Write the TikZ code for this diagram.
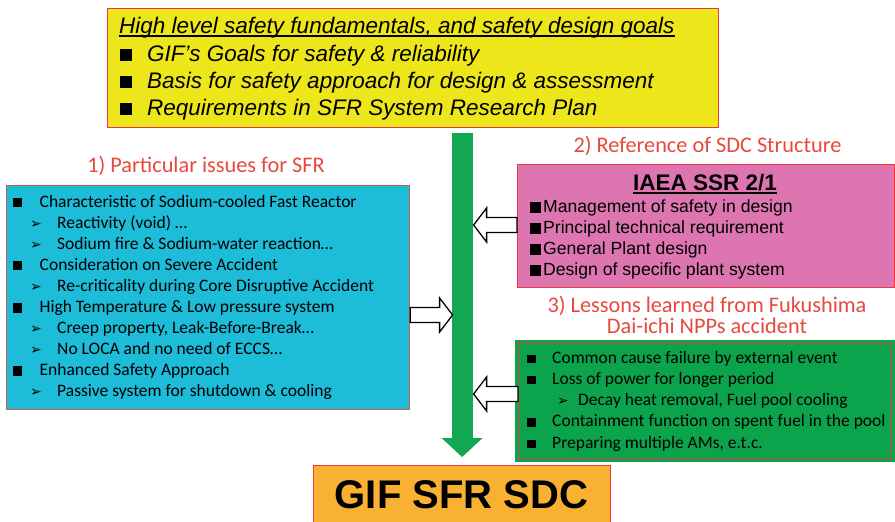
\documentclass[tikz,border=0pt]{standalone}
\usepackage{fontspec}
\setmainfont{Carlito}
\newfontfamily\arialfont{Liberation Sans}
\newfontfamily\symfont{DejaVu Sans}
\usepackage{tikz}
\usetikzlibrary{arrows.meta,positioning,calc}

\definecolor{goalyellow}{HTML}{EDE61A}
\definecolor{issueblue}{HTML}{1DBCD9}
\definecolor{ssrpink}{HTML}{DD76B0}
\definecolor{lessongreen}{HTML}{0BA34B}
\definecolor{flowgreen}{HTML}{12A753}
\definecolor{sdcorange}{HTML}{F9B132}
\definecolor{edgered}{HTML}{EA3A3F}
\definecolor{headred}{HTML}{E6493E}

% square bullet: box width, square size
\newcommand{\sqb}[2]{\makebox[#1][l]{\rule{#2}{#2}}}
% arrowhead bullet: indent, box width
\newcommand{\arb}[2]{\hspace*{#1}\makebox[#2][l]{{\symfont\fontsize{14}{14}\selectfont\char"27A2}}}
% underline close to the baseline
\newlength{\ullen}
\newcommand{\undl}[1]{\settowidth{\ullen}{#1}\rlap{#1}\rule[-3.6pt]{\ullen}{1.2pt}}

\begin{document}
\begin{tikzpicture}[x=1pt, y=-1pt,
box/.style={draw=edgered, line width=1.2pt, inner sep=0pt, anchor=north west},
head/.style={anchor=base, inner sep=0pt, text=headred, font=\fontsize{22.3}{26}\selectfont},
goaltext/.style={anchor=base west, inner sep=0pt, font=\arialfont\itshape\fontsize{22.5}{27}\selectfont},
issuetext/.style={anchor=base west, inner sep=0pt, font=\fontsize{17.5}{21}\selectfont},
ssrtext/.style={anchor=base west, inner sep=0pt, font=\arialfont\fontsize{17.6}{21}\selectfont},
flow/.style={draw=flowgreen, line width=21pt, -{Triangle[length=19pt, width=41pt, line width=0pt]}},
hollow/.style={draw, fill=white, line width=1.3pt, to path={
  let \p1=(\tikztostart), \p2=(\tikztotarget), \n1={13*sign(\x2-\x1)} in
  (\x1,\y1+7.5pt) -- (\x2-\n1,\y1+7.5pt) -- (\x2-\n1,\y1+17pt) -- (\x2,\y1)
  -- (\x2-\n1,\y1-17pt) -- (\x2-\n1,\y1-7.5pt) -- (\x1,\y1-7.5pt) -- cycle}}
]
\useasboundingbox (0,0) rectangle (895,522);
\clip (0,0) rectangle (895,522);

% boxes
\node[box, fill=goalyellow, minimum width=611pt, minimum height=119pt] (goals) at (107,8) {};
\node[box, fill=issueblue, draw={rgb,255:red,200;green,90;blue,72}, minimum width=403pt, minimum height=224pt] (issues) at (6,185) {};
\node[box, fill=ssrpink, minimum width=377pt, minimum height=123pt] (ssr) at (517,164) {};
\node[box, fill=lessongreen, preaction={draw=lessongreen, line width=7pt}, minimum width=373pt, minimum height=115pt] (lessons) at (518,343) {};
\node[box, fill=sdcorange, minimum width=297pt, minimum height=80pt] (sdc) at (313,465) {};

% goals
\node[goaltext] (goaltitle) at (119,33) {\undl{High level safety fundamentals, and safety design goals}};
\foreach \y/\t [count=\i] in {61/{GIF’s Goals for safety \& reliability},
  88/{Basis for safety approach for design \& assessment},
  115/{Requirements in SFR System Research Plan}}
  \node[goaltext] (goal\i) at (120,\y) {\sqb{27pt}{12pt}\t};

% headings
\node[head] (issuehead) at (206,172) {1) Particular issues for SFR};
\node[head] (ssrhead) at (707.5,152) {2) Reference of SDC Structure};
\node[head] (lessonhead) at (707,312) {3) Lessons learned from Fukushima};
\node[head] (lessonhead2) at (707,333) {Dai-ichi NPPs accident};

% particular issues
\foreach \t [count=\i] in {{\sqb{27pt}{9.5pt}Characteristic of Sodium-cooled Fast Reactor},
  {\arb{17.5pt}{27pt}Reactivity (void) …},
  {\arb{17.5pt}{27pt}Sodium fire \& Sodium-water reaction…},
  {\sqb{27pt}{9.5pt}Consideration on Severe Accident},
  {\arb{17.5pt}{27pt}Re-criticality during Core Disruptive Accident},
  {\sqb{27pt}{9.5pt}High Temperature \& Low pressure system},
  {\arb{17.5pt}{27pt}Creep property, Leak-Before-Break…},
  {\arb{17.5pt}{27pt}No LOCA and no need of ECCS…},
  {\sqb{27pt}{9.5pt}Enhanced Safety Approach},
  {\arb{17.5pt}{27pt}Passive system for shutdown \& cooling}}
  \node[issuetext] (issue\i) at (12.5,{207+21.1*(\i-1)}) {\t};

% IAEA SSR 2/1
\node[anchor=base, inner sep=0pt, font=\arialfont\bfseries\fontsize{22.5}{26}\selectfont] (ssrtitle) at (705,190) {\undl{IAEA SSR 2/1}};
\foreach \t [count=\i] in {Management of safety in design, Principal technical requirement,
  General Plant design, Design of specific plant system}
  \node[ssrtext] (ssr\i) at (530,{212.7+21*(\i-1)}) {\sqb{13pt}{11pt}\t};

% lessons learned
\foreach \t [count=\i] in {{\sqb{25pt}{8.5pt}Common cause failure by external event},
  {\sqb{25pt}{8.5pt}Loss of power for longer period},
  {\arb{30pt}{21pt}Decay heat removal, Fuel pool cooling},
  {\sqb{25pt}{8.5pt}Containment function on spent fuel in the pool},
  {\sqb{25pt}{8.5pt}Preparing multiple AMs, e.t.c.}}
  \node[issuetext] (lesson\i) at (527,{363+21.25*(\i-1)}) {\t};

\node[anchor=base, inner sep=0pt, font=\arialfont\bfseries\fontsize{40}{42}\selectfont] (sdctitle) at (461.5,508) {GIF SFR SDC};

% main flow and inputs
\coordinate (shaftL) at ($(sdc.north)+(-9.5,0)$);
\coordinate (shaftR) at ($(sdc.north)+(11.5,0)$);
\draw[flow, shorten <=5pt, shorten >=8pt] (sdc.north |- goals.south) -- (sdc.north);
\draw[hollow] (issues.east |- 0,315) to (shaftL |- 0,315);
\draw[hollow] (ssr.west |- 0,225) to (shaftR |- 0,225);
\draw[hollow] (lessons.west |- 0,394) to (shaftR |- 0,394);
\end{tikzpicture}
\end{document}
